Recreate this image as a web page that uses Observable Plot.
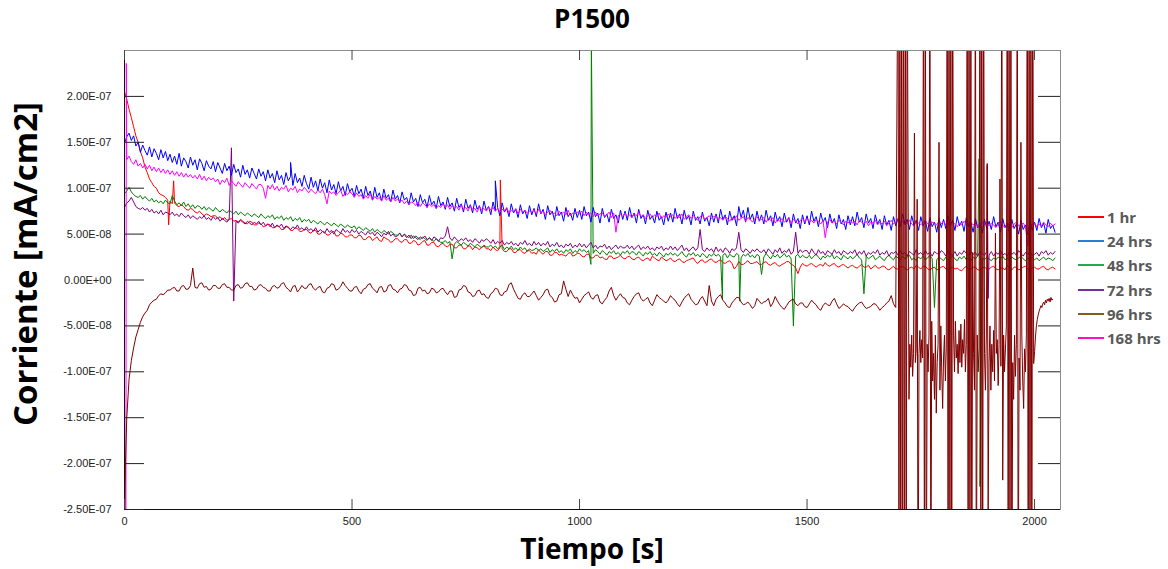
<!DOCTYPE html>
<html><head><meta charset="utf-8">
<script src="https://cdn.jsdelivr.net/npm/d3@7"></script>
<script src="https://cdn.jsdelivr.net/npm/@observablehq/plot@0.6"></script>
<style>
body{margin:0;background:#fff;}
#wrap{position:relative;width:1168px;height:569px;overflow:hidden;font-family:"Open Sans",sans-serif;background:#fff;}
#chart{position:absolute;left:0;top:0;}
#title{position:absolute;left:0;top:3px;width:1184px;text-align:center;font-weight:700;font-size:26px;line-height:30px;color:#000;}
#xtitle{position:absolute;left:0;top:532px;width:1184px;text-align:center;font-weight:700;font-size:28px;line-height:32px;color:#000;}
#ytitle{position:absolute;left:25px;top:264px;transform:translate(-50%,-50%) rotate(-90deg);white-space:nowrap;font-weight:700;font-size:33px;line-height:36px;color:#000;}
#legend{position:absolute;left:1078px;top:205px;}
.lrow{height:24.2px;display:flex;align-items:center;font-weight:700;font-size:15px;color:#595959;white-space:nowrap;}
.lline{width:26px;height:2px;margin-right:3px;}
</style></head>
<body><div id="wrap"><div id="chart"></div><div id="title"></div><div id="xtitle"></div><div id="ytitle"></div><div id="legend"></div></div>
<script>
// ---------- texts ----------
const chartTitle = "P1500";
const xTitle = "Tiempo [s]";
const yTitle = "Corriente [mA/cm2]";
const seriesNames = ["1 hr", "24 hrs", "48 hrs", "72 hrs", "96 hrs", "168 hrs"];
const lineColors = ["#ff0000", "#0000ff", "#008000", "#800080", "#800000", "#ff00ff"];
const legendColors = ["#ff0000", "#2a7fd0", "#22a955", "#7030a0", "#7f5f1a", "#ff10c8"];
const xTicks = [0, 500, 1000, 1500, 2000];
const xTickLabels = ["0", "500", "1000", "1500", "2000"];
const yTicks = [-2.5e-7, -2e-7, -1.5e-7, -1e-7, -5e-8, 0, 5e-8, 1e-7, 1.5e-7, 2e-7];
const yTickLabels = ["-2.50E-07", "-2.00E-07", "-1.50E-07", "-1.00E-07", "-5.00E-08", "0.00E+00", "5.00E-08", "1.00E-07", "1.50E-07", "2.00E-07"];

// ---------- data: current in units of 1E-09 mA/cm2 ----------
// each row = 100 s, one reading every 5 s
const scaleUnit = 1e-9;
const rowSpan = 100;
const sampleStep = 5;
const hr1 = [
 [205,197,186,177,167,157,150,140,133,123,117,110,106,102,100,95,93,92,90,87],
 [86,83,84,81,80,82,80,77,76,78,77,74,73,75,72,70,72,71,69,70],
 [70,67,69,66,68,65,66,67,64,65,63,66,64,62,61,64,63,60,60,62],
 [61,58,59,61,60,57,57,59,58,55,55,58,58,54,54,57,56,53,53,55],
 [55,52,51,54,54,50,50,53,52,49,49,52,53,48,48,51,50,47,47,49],
 [49,46,46,49,48,44,44,47,47,43,45,47,43,42,47,45,44,41,42,45],
 [45,42,41,44,44,40,40,43,42,38,39,42,43,38,38,41,41,37,36,39],
 [40,37,36,39,39,35,35,38,38,34,34,37,37,33,36,35,33,36,37,34],
 [34,32,36,33,32,35,34,31,31,34,34,30,30,33,33,30,29,32,32,29],
 [30,28,33,30,28,31,31,27,27,30,30,27,28,27,26,29,30,26,27,29],
 [29,26,25,28,28,24,24,27,27,24,25,23,22,26,26,23,24,25,27,24],
 [23,25,26,23,22,24,25,22,21,23,24,21,26,24,22,21,25,23,21,22],
 [24,21,20,22,23,20,19,21,22,23,24,20,18,21,22,19,20,22,23,20],
 [19,21,22,19,18,20,21,18,12,15,20,17,17,19,21,18,18,19,20,17],
 [17,19,20,17,16,18,19,16,15,17,18,20,20,17,16,13,7,14,18,16],
 [15,17,18,16,14,16,17,15,19,16,15,17,18,15,14,16,17,15,13,15],
 [16,14,13,15,17,14,14,16,12,14,16,13,13,15,15,12,11,13,15,12],
 [12,14,15,13,11,13,14,12,16,14,12,15,15,12,11,13,14,11,12,14],
 [15,12,11,13,14,12,13,11,10,13,15,12,12,14,14,11,11,13,14,12],
 [12,14,15,12,11,13,13,11,16,13,11,14,14,11,12,14,15,12,11,13],
 [14,12,12,14,15,12,11,13,14,12]];
const hrs24 = [
 [149,156,160,152,157,146,150,139,147,141,136,145,134,143,138,131,142,133,140,130],
 [137,128,135,126,138,124,133,129,122,134,125,131,120,132,127,119,130,124,121,129],
 [118,128,122,116,127,119,124,114,126,117,121,112,125,115,120,111,122,116,110,121],
 [113,118,108,120,111,116,106,119,109,114,104,117,108,113,103,116,106,111,102,114],
 [105,99,112,101,108,97,110,100,106,95,109,98,104,94,107,97,102,92,105,96],
 [100,91,103,94,99,89,102,92,97,87,101,90,95,86,99,89,93,85,98,88],
 [92,84,96,87,90,82,95,85,89,80,93,84,88,79,92,82,86,78,91,81],
 [85,77,90,80,84,75,89,79,83,74,88,78,82,73,87,77,81,72,86,76],
 [80,71,85,75,79,70,84,74,78,69,83,73,77,68,82,72,76,67,81,71],
 [78,69,83,72,77,66,81,71,75,65,80,70,74,64,79,69,73,65,78,68],
 [76,66,80,70,74,63,79,69,73,62,78,68,72,63,77,67,71,62,76,66],
 [75,65,79,68,73,62,77,67,71,61,76,66,70,62,75,65,69,60,74,64],
 [73,63,78,67,72,61,76,66,70,60,75,65,69,61,74,64,68,59,73,63],
 [72,62,77,66,71,60,75,65,70,59,80,68,76,63,79,66,72,61,75,64],
 [71,61,76,65,70,59,74,64,69,58,73,63,68,57,72,62,67,56,71,61],
 [70,60,75,64,69,58,73,63,68,57,72,62,67,56,71,61,66,55,70,60],
 [69,59,74,63,68,57,72,62,67,56,71,61,66,55,70,60,65,54,69,59],
 [67,58,72,61,66,55,70,60,65,54,69,59,64,53,68,58,63,52,67,57],
 [66,56,70,60,65,54,69,59,64,53,68,58,63,52,67,57,62,51,66,56],
 [64,55,69,58,63,52,67,57,62,51,66,56,61,50,65,55,60,49,64,54],
 [63,54,67,57,62,51,66,56,60,52]];
const hrs48 = [
 [94,97,101,96,93,91,90,92,88,91,88,86,89,85,87,84,86,83,87,84],
 [83,92,86,82,84,81,85,80,83,79,82,78,81,80,77,80,76,79,77,75],
 [79,76,74,77,75,73,76,74,72,75,71,74,72,70,73,71,69,72,70,68],
 [72,69,67,70,68,71,66,69,67,70,65,68,66,69,64,67,65,68,63,66],
 [64,66,62,65,63,61,64,62,60,63,61,59,62,60,58,61,59,57,60,58],
 [57,59,55,58,56,54,57,55,53,56,52,55,53,51,54,52,50,53,51,49],
 [49,51,47,50,48,46,49,45,48,46,44,47,45,43,46,44,42,45,43,41],
 [41,43,40,42,23,39,42,40,38,41,39,37,40,38,36,39,37,35,38,36],
 [36,38,35,37,34,36,38,33,36,34,37,33,35,32,36,33,35,31,34,32],
 [33,35,32,34,31,33,35,30,33,31,34,30,32,29,33,31,34,29,32,30],
 [34,31,33,30,32,17,29,33,31,28,32,30,27,31,29,32,28,30,27,31],
 [29,32,28,31,30,27,31,29,26,30,28,31,27,29,26,30,28,25,29,27],
 [30,27,29,26,28,31,27,25,29,27,30,26,28,25,29,27,24,28,26,29],
 [26,28,25,27,29,24,28,26,25,29,27,24,28,26,29,25,27,24,28,26],
 [6,25,29,26,23,27,25,28,24,26,29,25,27,23,-50,26,28,24,27,25],
 [24,27,23,26,28,25,22,26,24,27,25,28,23,26,24,22,27,25,23,26],
 [23,25,28,24,22,-15,26,23,25,27,22,24,26,23,21,25,27,24,22,26],
 [24,22,26,23,25,27,22,24,21,25,23,26,22,24,27,23,-30,22,25,23],
 [21,25,22,24,26,23,21,25,23,26,22,24,21,25,23,26,22,24,22,25],
 [23,21,24,22,25,23,26,22,24,21,25,23,22,24,26,23,21,24,22,25],
 [22,24,21,23,25,22,24,23,21,24]];
const hrs72 = [
 [79,84,86,90,85,80,78,77,79,76,78,74,77,73,75,72,76,71,74,73],
 [71,74,70,72,69,73,70,68,71,67,70,68,66,69,67,70,66,68,65,69],
 [66,68,64,67,65,63,66,144,-23,64,62,65,63,61,64,62,60,63,61,64],
 [60,63,59,61,58,62,57,60,58,61,56,59,57,55,58,56,60,55,57,54],
 [58,54,56,53,57,52,55,53,51,56,52,54,50,55,53,51,56,52,54,51],
 [55,52,54,50,53,51,49,53,50,52,48,52,50,47,51,49,53,48,50,47],
 [48,51,47,50,46,49,45,48,46,44,47,45,48,44,46,43,47,45,42,46],
 [45,48,58,46,43,47,44,42,45,43,46,42,44,41,45,43,40,44,42,45],
 [43,40,44,39,42,40,43,38,41,39,42,38,40,37,41,39,43,38,40,37],
 [42,38,41,37,40,38,42,36,39,37,41,36,38,35,39,37,40,35,38,36],
 [40,36,39,35,38,41,35,38,34,37,36,39,34,37,33,36,38,34,37,35],
 [35,38,34,37,33,36,38,33,36,34,37,33,35,32,36,34,37,32,35,33],
 [37,33,36,32,35,38,32,35,31,34,36,32,35,55,33,31,35,32,34,30],
 [36,31,34,30,35,33,29,34,32,35,52,33,30,34,32,29,33,31,34,31],
 [30,33,29,34,31,28,33,30,35,29,32,30,34,28,31,52,29,33,30,32],
 [32,28,34,30,27,33,29,31,27,32,30,28,33,29,31,27,32,30,28,31],
 [29,33,27,31,28,32,26,30,28,31,29,33,27,30,28,32,26,30,29,31],
 [27,32,28,30,26,31,29,27,33,28,30,27,32,28,30,26,31,29,28,32],
 [30,26,32,28,27,31,26,30,28,32,29,27,31,28,30,26,31,29,27,31],
 [27,31,26,30,28,32,27,29,26,31,28,30,27,32,29,26,30,28,31,27],
 [28,30,26,31,29,32,27,30,28,31]];
// 96 hrs: rows of 100 s (every 5 s) from 0 to 1695 s ...
const hrs96 = [
 [-300,-150,-108,-88,-74,-62,-54,-46,-40,-36,-33,-27,-24,-22,-21,-17,-15,-16,-14,-11],
 [-11,-9,-8,-12,-12,-7,-6,-10,-10,-6,13,-8,-9,-4,-3,-8,-7,-11,-10,-6],
 [-6,-9,-9,-5,-4,-8,-8,-11,-11,-6,-5,-9,-8,-4,-3,-7,-7,-11,-10,-6],
 [-5,-8,-9,-12,-12,-7,-6,-9,-8,-4,-3,-8,-10,-13,-7,-6,-13,-10,-6,-9],
 [-9,-5,-4,-9,-11,-8,-7,-13,-14,-9,-8,-4,-5,-11,-10,-7,-2,-6,-9,-12],
 [-12,-8,-7,-12,-15,-10,-9,-5,-4,-9,-11,-14,-8,-7,-13,-12,-6,-5,-10,-11],
 [-14,-10,-9,-5,-6,-11,-12,-17,-16,-9,-8,-12,-11,-15,-14,-9,-10,-14,-13,-10],
 [-9,-13,-16,-12,-12,-19,-18,-11,-10,-6,-7,-13,-14,-18,-17,-12,-11,-16,-15,-19],
 [-20,-15,-13,-9,-10,-16,-17,-13,-12,-5,-3,-10,-15,-20,-21,-16,-14,-18,-18,-15],
 [-12,-17,-22,-19,-16,-11,-10,-17,-19,-24,-23,-16,-15,-1,-10,-18,-11,-16,-20,-19],
 [-25,-21,-17,-15,-13,-19,-21,-17,-16,-24,-26,-22,-19,-12,-8,-17,-22,-18,-15,-19],
 [-20,-25,-27,-22,-18,-15,-14,-20,-23,-21,-19,-25,-28,-22,-16,-19,-21,-23,-25,-22],
 [-17,-20,-22,-26,-29,-24,-20,-17,-15,-21,-24,-27,-26,-21,-18,-23,-28,-6,-23,-28],
 [-21,-18,-16,-22,-25,-29,-30,-25,-22,-19,-19,-24,-27,-26,-24,-27,-31,-28,-20,-23],
 [-26,-24,-23,-20,-29,-25,-18,-23,-27,-30,-32,-28,-24,-22,-21,-26,-28,-25,-25,-29],
 [-30,-26,-22,-25,-27,-31,-33,-28,-25,-27,-28,-23,-20,-26,-31,-29,-26,-28,-29,-32],
 [-34,-30,-27,-25,-24,-28,-31,-30,-29,-26,-26,-29,-33,-30,-28,-25,-23,-17,-26,-30]];
// ... then every 2 s from 1700 to 2040 s (unstable part)
const hrs96Start = 1700;
const hrs96Step = 2;
const hrs96Unstable = [
 400,-400,400,-400,400,-400,400,-400,400,-400,
 400,110,-130,-70,-95,-60,-105,-80,160,-90,
 -75,88,-400,-80,-55,-90,-65,-85,400,-400,
 400,-400,-70,-100,-60,400,-400,-45,-110,-80,
 -130,-60,-145,-90,-70,150,-120,-50,-100,-140,
 -85,-60,-110,-75,400,-400,400,-400,400,-400,
 400,-60,-100,-45,-85,-70,-102,-55,-90,-48,
 -95,-65,-80,-43,-100,-70,400,-400,400,-400,
 400,-400,30,-80,-120,400,-400,-60,-100,-75,
 400,-400,400,-400,400,-80,-120,-60,127,-260,
 -90,-50,-120,-70,-100,-55,-110,51,-80,-65,
 -115,-70,110,-94,400,-218,-60,-100,-75,-50,
 400,-400,400,-400,400,-400,-90,-130,-60,-105,
 -70,400,-400,-85,-120,150,-60,-110,-140,-75,
 -100,-60,400,-400,400,-400,400,-400,400,-91,
 -78,-62,-50,-43,-38,-34,-31,-28,-30,-26,
 -24,-27,-22,-25,-21,-23,-20,-24,-19,-22,
 -21];
const hrs168 = [
 [-300,131,135,129,126,131,124,127,122,126,121,125,119,123,118,122,117,121,116,120],
 [115,119,114,118,113,117,112,116,112,115,111,114,110,115,109,113,108,112,109,111],
 [107,110,104,109,106,111,103,108,105,102,107,104,101,106,103,100,105,102,99,104],
 [104,100,89,103,99,104,98,102,97,101,99,103,96,100,98,102,95,99,97,101],
 [98,95,99,96,94,98,95,99,93,83,97,94,96,92,95,98,91,95,93,96],
 [94,90,95,91,93,88,92,89,94,87,91,88,90,86,92,87,89,85,90,86],
 [88,85,87,83,86,82,85,84,81,85,80,84,82,79,83,80,82,78,81,79],
 [83,79,82,77,81,78,80,76,82,77,79,75,81,77,78,74,80,76,78,75],
 [80,76,79,75,78,74,77,75,79,73,76,74,78,72,77,74,76,73,75,74],
 [76,72,77,73,75,71,74,76,72,73,70,75,72,74,71,76,70,73,72,74],
 [72,75,70,74,71,73,69,74,70,72,73,69,71,74,68,73,52,70,72,69],
 [73,69,71,68,72,70,74,69,71,67,70,72,68,71,69,73,67,70,68,72],
 [69,71,67,70,68,72,66,69,71,67,70,68,65,69,71,66,68,70,67,69],
 [70,66,68,65,69,67,64,68,66,70,65,67,69,64,68,66,63,67,69,65],
 [66,68,63,67,65,68,62,66,64,67,63,65,68,62,66,64,61,65,67,63],
 [67,63,65,62,66,64,61,65,46,63,66,62,64,61,65,63,60,64,62,65],
 [62,64,60,65,63,61,64,59,63,62,65,60,63,61,64,59,62,65,61,63],
 [66,62,64,60,63,65,61,59,64,62,60,63,65,61,59,63,62,60,64,61],
 [64,60,62,59,63,61,58,62,60,64,61,59,63,60,62,58,61,63,60,62],
 [59,62,60,57,61,64,59,58,62,60,57,61,63,59,60,62,58,37,61,60],
 [62,58,61,59,63,60,58,62,59,61]];
// isolated spikes [time s, value]
const spikes1 = [[97,60],[108,108],[826,109]];
const spikes24 = [[365,128],[815,108]];
const spikes48 = [[1026,262],[1314,-21],[1352,-23],[1878,132],[1880,-225]];
const spikes72 = [[1896,125],[1898,-20]];
const spikes96 = [[2,-200]];
const spikes168 = [[3,-300],[4,236]];

// ---------- build ----------
function build(rows, spikes, extra = []) {
  const pts = [];
  rows.forEach((row, r) => row.forEach((v, j) => pts.push({t: r * rowSpan + j * sampleStep, v: v * scaleUnit})));
  for (const p of extra) pts.push(p);
  for (const [t, v] of spikes) pts.push({t, v: v * scaleUnit});
  pts.sort((a, b) => a.t - b.t);
  return pts;
}
const unstable96 = hrs96Unstable.map((v, i) => ({t: hrs96Start + i * hrs96Step, v: v * scaleUnit}));
const series = [
  {data: build(hr1, spikes1), color: lineColors[0]},
  {data: build(hrs48, spikes48), color: lineColors[2]},
  {data: build(hrs72, spikes72), color: lineColors[3]},
  {data: build(hrs24, spikes24), color: lineColors[1]},
  {data: build(hrs168, spikes168), color: lineColors[5]},
  {data: build(hrs96, spikes96, unstable96), color: lineColors[4]}
];
const yLabel = new Map(yTicks.map((d, i) => [d, yTickLabels[i]]));
const xLabel = new Map(xTicks.map((d, i) => [d, xTickLabels[i]]));

const chart = Plot.plot({
  width: 1168, height: 569,
  marginLeft: 124, marginRight: 108, marginTop: 50, marginBottom: 60,
  style: {fontFamily: "'Liberation Sans', Arial, sans-serif", fontSize: "11px", background: "transparent", color: "#222"},
  x: {domain: [0, 2057], label: null},
  y: {domain: [-2.5e-7, 2.5e-7], label: null},
  marks: [
    ...series.map(s => Plot.line(s.data, {x: "t", y: "v", stroke: s.color, strokeWidth: 1, clip: true})),
    Plot.frame({stroke: "#8c8c8c"}),
    Plot.ruleX([0], {stroke: "#111"}),
    Plot.ruleY([-2.5e-7], {stroke: "#111"}),
    Plot.tickY(yTicks, {insetRight: 916, stroke: "#222"}),
    Plot.tickY(yTicks, {insetLeft: 914, stroke: "#222"}),
    Plot.tickX(xTicks, {insetBottom: 449, stroke: "#444"}),
    Plot.tickX(xTicks, {insetTop: 449, stroke: "#444"}),
    Plot.axisY(yTicks, {tickSize: 0, tickPadding: 13, tickFormat: d => yLabel.get(d), label: null, fill: "#222"}),
    Plot.axisX(xTicks, {tickSize: 0, tickPadding: 8, tickFormat: d => xLabel.get(d), label: null, fill: "#222"})
  ]
});
document.getElementById("chart").appendChild(chart);
document.getElementById("title").textContent = chartTitle;
document.getElementById("xtitle").textContent = xTitle;
document.getElementById("ytitle").textContent = yTitle;
const legend = document.getElementById("legend");
seriesNames.forEach((n, i) => {
  const row = document.createElement("div");
  row.className = "lrow";
  const ln = document.createElement("span");
  ln.className = "lline";
  ln.style.background = legendColors[i];
  const tx = document.createElement("span");
  tx.textContent = n;
  row.appendChild(ln); row.appendChild(tx);
  legend.appendChild(row);
});
</script></body></html>
